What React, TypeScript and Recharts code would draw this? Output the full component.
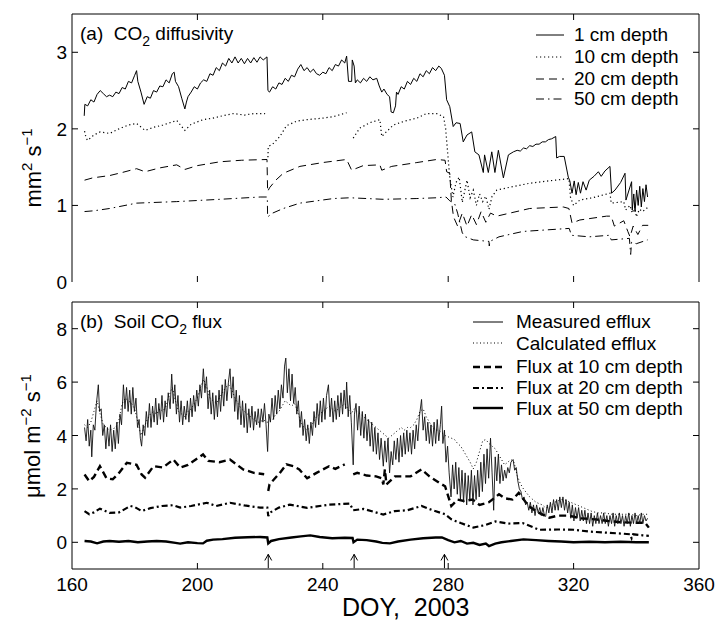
import React from 'react';
import { ComposedChart, Line, XAxis, YAxis, ReferenceLine } from 'recharts';

type P = [number, number | null];

const FONT = "'Liberation Sans', Arial, Helvetica, sans-serif";

const xTicks = [160, 200, 240, 280, 320, 360];
const yTicksA = [0, 1, 2, 3];
const yTicksB = [0, 2, 4, 6, 8];
const arrowDays = [222.6, 250, 278.8];

// ---------- Panel (a): CO2 diffusivity (mm2 s-1) ----------
const diff1cm: P[] = [
  [163.9, 2.17], [164.1, 2.32], [165, 2.3], [166, 2.38], [167, 2.35], [168, 2.45], [169, 2.5], [170, 2.46],
  [171, 2.42], [172, 2.44], [173, 2.42], [174, 2.48], [175, 2.46], [176, 2.54], [177, 2.52], [178, 2.62],
  [179, 2.6], [180, 2.7], [180.6, 2.76], [181, 2.62], [182, 2.48], [183, 2.32], [184, 2.42], [185, 2.4],
  [186, 2.5], [187, 2.48], [188, 2.56], [189, 2.55], [190, 2.64], [191, 2.6], [192, 2.72], [192.6, 2.74],
  [193, 2.62], [194, 2.55], [195, 2.4], [196, 2.26], [196.5, 2.35], [197, 2.42], [198, 2.48], [199, 2.55],
  [200, 2.52], [201, 2.6], [202, 2.64], [203, 2.62], [204, 2.72], [205, 2.7], [206, 2.8], [207, 2.76],
  [208, 2.86], [209, 2.82], [210, 2.92], [211, 2.86], [212, 2.94], [213, 2.86], [214, 2.92], [215, 2.85],
  [216, 2.92], [217, 2.86], [218, 2.93], [219, 2.87], [220, 2.94], [221, 2.9], [222.2, 2.94], [222.5, 2.5],
  [223, 2.48], [224, 2.55], [225, 2.52], [226, 2.6], [227, 2.58], [228, 2.66], [229, 2.62], [230, 2.7],
  [231, 2.68], [232, 2.78], [233, 2.84], [234, 2.76], [235, 2.8], [236, 2.74], [237, 2.78], [238, 2.72],
  [239, 2.7], [240, 2.74], [241, 2.72], [242, 2.8], [243, 2.76], [244, 2.84], [245, 2.82], [246, 2.9],
  [247, 2.86], [247.6, 2.95], [248.2, 2.62], [249.2, 2.62], [249.4, 2.9], [250, 2.82], [250.4, 2.6],
  [251, 2.64], [252, 2.6], [253, 2.66], [254, 2.62], [255, 2.68], [256, 2.64], [257.2, 2.66], [258, 2.56],
  [258.8, 2.48], [259.5, 2.52], [260.5, 2.45], [261.3, 2.42], [261.8, 2.22], [262.5, 2.21], [263.2, 2.3],
  [263.5, 2.48], [264, 2.45], [265, 2.55], [266, 2.52], [267, 2.62], [268, 2.58], [269, 2.66], [270, 2.62],
  [271, 2.72], [272, 2.68], [273, 2.76], [274, 2.72], [275, 2.8], [276, 2.76], [277, 2.82], [277.8, 2.79],
  [278.8, 2.7], [279.5, 2.38], [280.5, 2.29], [281.6, 2.03], [282.5, 2.08], [283.8, 2.07], [284.8, 1.83],
  [286, 1.92], [287.5, 1.96], [288.5, 1.7], [289.8, 1.66], [291.2, 1.43], [291.6, 1.66], [292.8, 1.43],
  [293.9, 1.7], [294.9, 1.43], [296, 1.72], [297.6, 1.36], [299.2, 1.66], [300.8, 1.7], [302, 1.72],
  [303, 1.71], [304, 1.75], [305, 1.74], [306, 1.78], [307, 1.77], [308, 1.8], [309, 1.8], [310, 1.83],
  [311, 1.83], [312, 1.86], [313, 1.87], [314.3, 1.9], [314.6, 1.62], [315.5, 1.64], [317, 1.64],
  [318.3, 1.37], [318.8, 1.32], [319.5, 1.16], [320.2, 1.32], [320.8, 1.14], [321.5, 1.3], [322.2, 1.16],
  [323, 1.31], [324, 1.2], [325, 1.33], [326.5, 1.38], [327.9, 1.44], [328.8, 1.38], [330, 1.45],
  [331.6, 1.51], [332.1, 1.16], [333.2, 1.2], [335, 1.3], [336.4, 1.42], [336.7, 1.07], [338.5, 1.31],
  [338.7, 0.94], [339.2, 1.15], [339.6, 0.92], [340.1, 1.2], [340.6, 1.0], [341.1, 1.25], [341.6, 0.98],
  [342.1, 1.22], [342.6, 1.05], [343.1, 1.27], [343.6, 1.11],
];

const diff10cm: P[] = [
  [164, 1.97], [164.5, 1.88], [165, 1.85], [167, 1.92], [169, 1.96], [172, 1.94], [175, 2.0], [178, 2.05],
  [180.6, 2.07], [183.3, 1.98], [186, 2.02], [189, 2.05], [193.4, 2.11], [196, 1.98], [198, 2.06],
  [201.8, 2.12], [205, 2.14], [208, 2.17], [211.5, 2.2], [215, 2.18], [218, 2.2], [221.6, 2.2], [222, null],
  [222.5, 1.63], [222.6, 1.77], [224, 1.8], [226.3, 1.9], [228.4, 2.04], [231.6, 2.1], [235, 2.12],
  [240, 2.14], [243.4, 2.16], [247.6, 2.21], [248.6, null], [249.7, 1.88], [251.8, 2.01], [255, 2.08],
  [258.2, 2.12], [258.8, 1.9], [260, 1.95], [262.5, 2.05], [266, 2.1], [270, 2.14], [273, 2.2],
  [276.3, 2.2], [278.5, 2.16], [279.2, 2.0], [280, 1.6], [280.5, 1.37], [281.5, 1.11], [282.5, 1.3],
  [283.5, 1.37], [284.5, 1.04], [286, 1.33], [287, 1.1], [288, 1.2], [289, 1.0], [290, 1.15], [291, 1.05],
  [292, 1.12], [293, 0.95], [294, 1.12], [295.5, 1.2], [300, 1.24], [306, 1.29], [312, 1.32], [318.5, 1.35],
  [319, 1.11], [320, 1.0], [322, 1.07], [326, 1.1], [331.6, 1.16], [332, 1.03], [336, 1.05], [336.6, 0.94],
  [338, 1.0], [338.7, 0.9], [339.5, 0.98], [340, 0.85], [341, 0.95], [342, 0.92], [343.8, 0.98],
];

const diff20cm: P[] = [
  [164, 1.33], [166.6, 1.36], [172, 1.39], [176, 1.43], [180.6, 1.48], [183.3, 1.44], [188, 1.49],
  [193.4, 1.53], [196, 1.47], [200, 1.52], [207.2, 1.57], [214, 1.59], [222.2, 1.6], [222.4, 1.18],
  [223, 1.23], [225, 1.33], [227.4, 1.42], [232.7, 1.51], [240, 1.56], [247.6, 1.6], [249.2, 1.46],
  [252.9, 1.52], [258.2, 1.53], [258.8, 1.46], [262, 1.51], [270, 1.56], [276.3, 1.6], [279, 1.59],
  [279.5, 1.44], [280.5, 1.42], [281, 1.07], [281.7, 0.85], [283, 0.73], [284.5, 0.9], [286, 0.73],
  [287.5, 0.88], [289, 0.75], [290.5, 0.92], [292, 0.78], [293.5, 0.9], [295.5, 0.86], [299.7, 0.9],
  [306, 0.96], [316.7, 0.98], [318.5, 0.96], [319.5, 0.77], [322, 0.81], [330.5, 0.86], [332, 0.86],
  [333, 0.73], [336, 0.8], [337.3, 0.66], [338, 0.59], [339, 0.73], [340.5, 0.62], [342, 0.74], [343.8, 0.74],
];

const diff50cm: P[] = [
  [164, 0.92], [167, 0.93], [172, 0.96], [180.6, 1.03], [193.4, 1.05], [207.2, 1.08], [220, 1.11],
  [222.3, 1.11], [222.4, 0.85], [224, 0.9], [227.4, 0.96], [232.7, 1.03], [243.4, 1.09], [248.7, 1.1],
  [259.3, 1.08], [270, 1.09], [276.3, 1.1], [279.3, 1.11], [280.5, 1.06], [282, 1.03], [283, 0.9],
  [284.5, 0.64], [285.5, 0.59], [288, 0.55], [293, 0.53], [293.1, 0.47], [293.3, 0.53], [296.2, 0.59],
  [303.8, 0.66], [318.6, 0.7], [319.3, 0.61], [325, 0.59], [331.4, 0.61], [332, 0.55], [337.8, 0.57],
  [338.2, 0.36], [338.5, 0.52], [340, 0.5], [343.6, 0.55],
];

// ---------- Panel (b): Soil CO2 flux (umol m-2 s-1) ----------
const measuredEfflux: P[] = [
  [164, 4.3], [164.5, 3.8], [165, 4.6], [165.5, 3.6], [166, 4.2], [166.3, 3.2], [166.8, 4.4], [167.3, 4.2],
  [167.8, 5.2], [168.4, 5.9], [168.8, 4.9], [169.3, 5.0], [169.8, 4.0], [170.3, 4.4], [170.8, 3.5], [171.3, 4.3],
  [171.8, 3.6], [172.3, 4.4], [172.8, 3.4], [173.3, 4.2], [173.8, 3.5], [174.3, 4.5], [174.8, 3.7], [175.3, 4.8],
  [175.8, 4.4], [176.4, 5.9], [176.9, 5.0], [177.4, 5.8], [177.9, 4.9], [178.4, 5.7], [178.9, 4.8], [179.4, 5.8],
  [179.9, 4.9], [180.4, 5.4], [180.9, 4.3], [181.4, 4.6], [181.8, 3.9], [182.2, 3.6], [182.7, 4.4], [183.2, 4.0],
  [183.7, 4.9], [184.2, 4.3], [184.7, 5.2], [185.2, 4.3], [185.7, 5.1], [186.2, 4.5], [186.7, 5.4], [187.2, 4.4],
  [187.7, 5.2], [188.2, 4.6], [188.7, 5.5], [189.2, 4.5], [189.7, 5.3], [190.2, 4.7], [190.7, 5.6], [191.3, 5.0],
  [191.8, 6.3], [192.3, 5.2], [192.8, 5.9], [193.3, 4.8], [193.8, 5.5], [194.3, 4.5], [194.8, 5.3], [195.3, 4.4],
  [195.8, 5.1], [196.3, 4.6], [196.8, 5.3], [197.3, 4.5], [197.8, 5.4], [198.3, 4.7], [198.8, 5.5], [199.3, 4.9],
  [199.8, 5.7], [200.3, 5.1], [200.8, 5.9], [201.3, 5.4], [201.9, 6.5], [202.4, 5.6], [202.9, 6.2], [203.4, 5.0],
  [203.9, 5.7], [204.4, 4.8], [204.9, 5.6], [205.4, 4.6], [205.9, 5.5], [206.4, 4.7], [206.9, 5.7], [207.4, 4.9],
  [207.9, 5.9], [208.4, 5.1], [208.9, 6.1], [209.4, 5.3], [209.9, 6.0], [210.4, 6.5], [210.9, 5.4], [211.4, 6.2],
  [211.9, 4.9], [212.4, 5.7], [212.9, 4.6], [213.4, 5.5], [213.9, 4.4], [214.4, 5.3], [214.9, 4.3], [215.4, 5.2],
  [215.9, 4.1], [216.4, 5.0], [216.9, 4.3], [217.4, 5.1], [217.9, 4.2], [218.4, 4.9], [218.9, 4.4], [219.4, 5.0],
  [219.9, 4.3], [220.4, 5.0], [220.9, 4.5], [221.4, 5.2], [221.9, 4.4], [222.4, 3.4], [222.8, 4.8], [223.3, 4.5],
  [223.8, 5.4], [224.3, 4.6], [224.8, 5.5], [225.3, 4.8], [225.8, 5.7], [226.3, 5.0], [226.8, 5.9], [227.3, 5.4],
  [227.8, 6.6], [228.2, 6.9], [228.7, 5.6], [229.2, 6.5], [229.7, 5.3], [230.2, 6.3], [230.7, 5.2], [231.2, 5.8],
  [231.7, 4.8], [232.2, 5.3], [232.7, 4.3], [233.2, 4.9], [233.7, 4.0], [234.2, 4.6], [234.7, 3.8], [235.2, 4.4],
  [235.7, 3.7], [236.2, 4.5], [236.7, 4.0], [237.2, 4.9], [237.7, 4.3], [238.2, 5.2], [238.7, 4.4], [239.2, 5.3],
  [239.7, 4.5], [240.2, 5.4], [240.7, 4.6], [241.2, 5.5], [241.8, 5.9], [242.3, 4.7], [242.8, 5.4], [243.3, 4.5],
  [243.8, 5.3], [244.3, 4.6], [244.8, 5.5], [245.3, 4.7], [245.8, 5.6], [246.3, 4.8], [246.8, 5.7], [247.3, 5.0],
  [247.6, 6.0], [248.1, 4.7], [248.6, 5.5], [249.1, 4.5], [249.7, 2.9], [250.1, 4.8], [250.6, 5.2], [251.1, 4.2],
  [251.6, 5.1], [252.1, 4.0], [252.6, 4.9], [253.1, 3.9], [253.6, 4.8], [254.1, 3.8], [254.6, 4.6], [255.1, 3.6],
  [255.6, 4.5], [256.1, 3.4], [256.6, 4.3], [257.1, 3.3], [257.6, 4.1], [258.1, 3.1], [258.6, 3.9], [259.3, 2.85],
  [259.8, 3.8], [260.3, 3.0], [260.8, 3.9], [261.3, 2.6], [261.8, 3.4], [262.3, 2.9], [262.8, 3.8], [263.3, 3.1],
  [263.8, 3.9], [264.3, 3.0], [264.8, 4.0], [265.3, 3.2], [265.8, 4.1], [266.3, 3.3], [266.8, 4.2], [267.3, 3.4],
  [267.8, 4.1], [268.3, 3.3], [268.8, 4.2], [269.3, 3.5], [269.8, 4.4], [270.3, 3.8], [270.8, 4.7], [271.5, 5.35],
  [272, 4.2], [272.5, 4.7], [273, 3.8], [273.5, 4.5], [274, 3.7], [274.5, 4.4], [275, 3.6], [275.5, 4.5],
  [276, 3.7], [276.5, 4.6], [277, 3.8], [277.5, 4.4], [277.9, 5.1], [278.3, 3.7], [278.8, 4.2], [279.3, 3.0],
  [279.8, 3.6], [280.3, 2.6], [280.9, 1.7], [281.4, 2.9], [281.9, 2.0], [282.4, 3.0], [282.9, 1.8], [283.4, 2.8],
  [283.9, 1.6], [284.4, 2.7], [284.9, 1.5], [285.4, 2.6], [285.9, 1.4], [286.4, 2.5], [286.9, 1.6], [287.4, 2.7],
  [287.9, 1.4], [288.4, 2.5], [288.9, 1.6], [289.4, 2.7], [289.9, 1.7], [290.4, 3.0], [290.9, 1.9], [291.4, 3.3],
  [291.9, 2.2], [292.4, 3.5], [292.9, 2.4], [293.5, 3.9], [294, 2.6], [294.5, 1.2], [295, 3.2], [295.5, 2.3],
  [296, 3.3], [296.5, 2.2], [297, 2.9], [297.5, 2.3], [298, 2.7], [298.5, 2.4], [299, 2.8], [299.5, 2.6],
  [300, 3.0], [300.7, 3.1], [301.2, 2.7], [301.7, 2.8], [302.2, 2.3], [302.7, 2.0], [303.2, 1.9], [303.7, 1.6],
  [304.2, 1.7], [304.7, 1.4], [305.2, 1.5], [305.7, 1.2], [306.2, 1.5], [306.7, 1.1], [307.2, 1.4], [307.7, 1.0],
  [308.2, 1.4], [308.7, 1.1], [309.2, 1.3], [309.7, 1.0], [310.2, 1.3], [310.7, 1.0], [311.1, 0.97], [311.6, 1.4],
  [312.1, 1.1], [312.6, 1.5], [313.1, 1.1], [313.6, 1.6], [314.1, 1.2], [314.6, 1.6], [315.1, 1.2], [315.6, 1.7],
  [316.1, 1.3], [316.6, 1.7], [317.1, 1.2], [317.6, 1.6], [318.1, 1.1], [318.6, 1.5], [319.1, 0.9], [319.6, 1.4],
  [320.1, 0.8], [320.6, 1.3], [321.1, 0.9], [321.6, 1.3], [322.1, 0.8], [322.6, 1.2], [323.1, 0.8], [323.6, 1.2],
  [324.1, 0.7], [324.6, 1.1], [325.1, 0.7], [325.6, 1.1], [326.1, 0.6], [326.6, 1.0], [327.1, 0.7], [327.6, 1.1],
  [328.1, 0.7], [328.6, 1.0], [329.1, 0.7], [329.6, 1.1], [330.1, 0.7], [330.6, 1.0], [331.1, 0.6], [331.6, 1.0],
  [332.1, 0.7], [332.6, 1.1], [333.1, 0.6], [333.6, 1.0], [334.1, 0.7], [334.6, 1.1], [335.1, 0.7], [335.6, 1.0],
  [336.1, 0.6], [336.6, 1.0], [337.1, 0.7], [337.6, 1.1], [338.1, 0.6], [338.6, 1.0], [339.1, 0.7], [339.6, 1.1],
  [340.1, 0.7], [340.6, 1.0], [341.1, 0.7], [341.6, 1.1], [342.1, 0.7], [342.6, 1.0], [343.1, 0.8], [343.6, 0.9],
];

const calculatedEfflux: P[] = [
  [164, 4.4], [165, 4.3], [166, 4.5], [167, 4.9], [168, 5.3], [169, 4.8], [170, 4.4], [171, 4.3], [172, 4.2],
  [173, 4.25], [174, 4.3], [175, 4.6], [176, 5.2], [177, 5.4], [178, 5.3], [179, 5.2], [180, 5.0], [181, 4.5],
  [182, 4.0], [183, 4.3], [184, 4.6], [185, 4.8], [186, 4.9], [187, 4.8], [188, 5.0], [189, 4.9], [190, 5.1],
  [191, 5.5], [192, 5.8], [193, 5.3], [194, 4.9], [195, 4.8], [196, 4.7], [197, 4.9], [198, 5.0], [199, 5.2],
  [200, 5.4], [201, 5.8], [202, 6.1], [203, 5.8], [204, 5.4], [205, 5.3], [206, 5.2], [207, 5.4], [208, 5.6],
  [209, 5.8], [210, 5.9], [211, 5.7], [212, 5.4], [213, 5.2], [214, 5.0], [215, 4.9], [216, 4.8], [217, 4.7],
  [218, 4.6], [219, 4.5], [220, 4.5], [221, 4.6], [222, 4.5], [223, 4.5], [224, 4.6], [225, 4.8], [226, 4.9],
  [227, 5.1], [228, 5.3], [229, 5.2], [230, 5.1], [231, 5.2], [232, 4.9], [233, 4.5], [234, 4.3], [235, 4.2],
  [236, 4.3], [237, 4.5], [238, 4.7], [239, 4.8], [240, 4.9], [241, 5.0], [242, 5.1], [243, 5.0], [244, 4.9],
  [245, 5.0], [246, 5.1], [247, 5.2], [248, 5.0], [249, 4.8], [250, 5.0], [251, 4.9], [252, 4.8], [253, 4.7],
  [254, 4.6], [255, 4.5], [256, 4.4], [257, 4.3], [258, 4.2], [259, 4.1], [260, 4.0], [261, 3.9], [262, 4.0],
  [263, 4.1], [264, 4.2], [265, 4.3], [266, 4.2], [267, 4.3], [268, 4.3], [269, 4.4], [270, 4.6], [271, 4.9],
  [272, 5.0], [273, 4.7], [274, 4.5], [275, 4.3], [276, 4.2], [277, 4.2], [278, 4.1], [279, 4.0], [280, 3.95],
  [281, 3.9], [282, 3.85], [283, 3.7], [284, 3.6], [285, 3.4], [286, 3.2], [287, 3.0], [288, 2.75], [289, 3.0],
  [290, 3.4], [291, 3.8], [292, 3.85], [293, 3.7], [294, 3.6], [295, 3.5], [296, 3.3], [297, 3.1], [298, 2.9],
  [299, 3.0], [300, 3.1], [301, 3.0], [302, 2.5], [303, 2.2], [304, 2.0], [305, 1.85], [306, 1.7], [307, 1.6],
  [308, 1.5], [309, 1.45], [310, 1.4], [311, 1.3], [312, 1.3], [313, 1.4], [314, 1.5], [315, 1.55], [316, 1.6],
  [317, 1.6], [318, 1.55], [319, 1.5], [320, 1.45], [322, 1.35], [324, 1.25], [326, 1.15], [328, 1.1],
  [330, 1.1], [332, 1.05], [334, 1.05], [336, 1.05], [338, 1.05], [340, 1.0], [342, 1.05], [344, 1.05],
];

const flux10cm: P[] = [
  [164, 2.54], [165.5, 2.29], [167, 2.45], [168.9, 2.85], [171, 2.4], [173, 2.36], [175, 2.6], [177.5, 2.98],
  [180.6, 2.9], [182.2, 2.54], [183.3, 2.42], [186, 2.85], [189, 2.8], [192.3, 3.1], [194.5, 2.8], [197, 2.9],
  [201.8, 3.29], [203.5, 3.05], [207, 3.0], [210.4, 3.1], [214.6, 2.73], [218, 2.6], [221.3, 2.55], [221.9, null],
  [222.6, 1.92], [223, 2.17], [226.3, 2.6], [228.4, 2.92], [230.6, 2.85], [232.5, 2.73], [235, 2.4], [238, 2.6],
  [242, 2.85], [244, 2.75], [247, 2.92], [248.3, null], [249.7, 2.54], [251, 2.6], [254, 2.5], [257, 2.47],
  [258.8, 2.4], [259.3, 2.17], [259.8, 2.73], [260.3, 2.17], [263, 2.47], [268, 2.47], [271.5, 2.73],
  [274, 2.47], [277.5, 2.2], [279, 2.1], [281, 1.36], [283, 1.6], [285, 1.55], [287.8, 1.6], [290, 1.4],
  [293, 1.5], [296.2, 1.8], [298, 1.65], [300.5, 1.6], [302.5, 1.85], [305.7, 1.35], [309, 1.1], [312.3, 0.92],
  [315, 1.0], [318.6, 1.0], [322, 0.9], [327, 0.86], [331, 0.8], [335.3, 0.75], [340, 0.73], [342.8, 0.73],
  [344, 0.55],
];

const flux20cm: P[] = [
  [164, 1.17], [165.5, 1.05], [167, 1.12], [168.9, 1.26], [172, 1.1], [175, 1.12], [178.6, 1.36], [180, 1.32],
  [182.2, 1.17], [185, 1.28], [188.7, 1.36], [192.3, 1.39], [194.5, 1.3], [198, 1.36], [203, 1.48], [206, 1.36],
  [210.4, 1.48], [215, 1.38], [220, 1.3], [222.3, 1.3], [222.6, 0.98], [223, 1.1], [226, 1.3], [229.5, 1.41],
  [235, 1.29], [242, 1.41], [248.6, 1.45], [249.7, 1.2], [253, 1.25], [256, 1.15], [259.3, 1.04], [263, 1.17],
  [267, 1.2], [271.5, 1.36], [275, 1.2], [279, 1.05], [281, 0.86], [284, 0.72], [288, 0.55], [292, 0.65],
  [295, 0.78], [299, 0.7], [303.8, 0.72], [309, 0.47], [315, 0.48], [320, 0.47], [325, 0.4], [330.6, 0.36],
  [336, 0.32], [338, 0.3], [338.5, 0.15], [339, 0.3], [342, 0.26], [344, 0.24],
];

const flux50cm: P[] = [
  [164, 0.05], [166, 0.03], [168, -0.04], [170, 0.03], [172, 0.05], [175, 0.02], [178, 0.05], [181, 0.0],
  [184, 0.03], [187, 0.05], [190, 0.03], [193, -0.02], [194.5, -0.05], [197, 0.0], [200, -0.03], [201.8, -0.04],
  [203, 0.06], [205, 0.1], [208, 0.12], [212, 0.17], [216, 0.19], [220, 0.2], [222.3, 0.18], [222.6, -0.04],
  [223.5, 0.05], [226, 0.12], [230, 0.18], [233, 0.22], [236, 0.26], [239, 0.2], [243, 0.15], [247, 0.17],
  [249.5, 0.16], [249.8, 0.0], [251, 0.1], [254, 0.08], [257, 0.03], [259, -0.02], [261.4, -0.04], [264, 0.03],
  [268, 0.1], [272, 0.15], [276, 0.18], [278, 0.18], [280, 0.08], [282, 0.0], [284, 0.05], [286, -0.05],
  [288, -0.02], [290, -0.1], [292, -0.05], [293, -0.14], [295, -0.05], [297, 0.0], [300, 0.05], [304, 0.11],
  [308, 0.08], [312, 0.05], [316, 0.03], [320, 0.0], [325, 0.02], [330, 0.0], [335, 0.02], [340, 0.0], [344, 0.0],
];

const toData = (arr: P[]) => arr.map(([x, y]) => ({ x, y }));

const AXL = { stroke: '#000', strokeWidth: 1 };
const X_MIN = 160;
const X_MAX = 360;

function XLabel(props: any) {
  const { x, y, payload, showLabel } = props;
  if (!showLabel) return <g />;
  return (
    <text x={x} y={y + 22} textAnchor="middle" fontSize={19} fontFamily={FONT} fill="#000">
      {payload.value}
    </text>
  );
}

function YLabel(props: any) {
  const { x, y, payload } = props;
  return (
    <text x={x - 5} y={y + 7} textAnchor="end" fontSize={19} fontFamily={FONT} fill="#000">
      {payload.value}
    </text>
  );
}

// frame (top/right) and inward tick marks, placed through the chart's own scales
function frameAndTicks(yMin: number, yMax: number, plotH: number, plotW: number) {
  const ty = ((yMax - yMin) / plotH) * 6; // 6px in data units
  const tx = ((X_MAX - X_MIN) / plotW) * 6;
  const yTicks = yMax > 5 ? yTicksB : yTicksA;
  const out: any[] = [];
  out.push(<ReferenceLine key="ftop" y={yMax} stroke="#000" strokeWidth={1} ifOverflow="visible" />);
  out.push(<ReferenceLine key="fright" x={X_MAX} stroke="#000" strokeWidth={1} ifOverflow="visible" />);
  xTicks.slice(1, -1).forEach((t) => {
    out.push(<ReferenceLine key={'xb' + t} segment={[{ x: t, y: yMin }, { x: t, y: yMin + ty }]} stroke="#000" strokeWidth={1} ifOverflow="visible" />);
    out.push(<ReferenceLine key={'xt' + t} segment={[{ x: t, y: yMax }, { x: t, y: yMax - ty }]} stroke="#000" strokeWidth={1} ifOverflow="visible" />);
  });
  yTicks.forEach((v) => {
    if (v === yMin) return;
    out.push(<ReferenceLine key={'yl' + v} segment={[{ x: X_MIN, y: v }, { x: X_MIN + tx, y: v }]} stroke="#000" strokeWidth={1} ifOverflow="visible" />);
    out.push(<ReferenceLine key={'yr' + v} segment={[{ x: X_MAX, y: v }, { x: X_MAX - tx, y: v }]} stroke="#000" strokeWidth={1} ifOverflow="visible" />);
  });
  return out;
}

function axes(yDomain: number[], yTicks: number[], xHeight: number, showX: boolean) {
  return [
    <XAxis key="xb" type="number" dataKey="x" domain={[X_MIN, X_MAX]} ticks={xTicks} interval={0}
      tickSize={0} tickMargin={0} height={xHeight} axisLine={AXL} tickLine={false} allowDataOverflow
      tick={(p: any) => <XLabel {...p} showLabel={showX} />} />,
    <YAxis key="yl" type="number" domain={yDomain} ticks={yTicks} interval={0} width={72}
      tickSize={0} tickMargin={0} axisLine={AXL} tickLine={false} allowDataOverflow
      tick={(p: any) => <YLabel {...p} />} />,
  ];
}

function series(key: string, arr: P[], width: number, dash?: string, color = '#000') {
  return (
    <Line key={key} data={toData(arr)} dataKey="y" type="linear" stroke={color} strokeWidth={width}
      strokeDasharray={dash} dot={false} activeDot={false} isAnimationActive={false} connectNulls={false} />
  );
}

export default function App() {
  return (
    <div style={{ position: 'absolute', left: 0, top: 0, width: 716, height: 621, background: '#fff' }}>
      <div style={{ position: 'absolute', left: 0, top: 0 }}>
        <ComposedChart width={716} height={292} margin={{ top: 14, right: 17, bottom: 10, left: 0 }}>
          {axes([0, 3.5], yTicksA, 0, false)}
          {frameAndTicks(0, 3.5, 268, 627)}
          {series('d50', diff50cm, 1, '8 4 1.5 4')}
          {series('d20', diff20cm, 1, '8 5')}
          {series('d10', diff10cm, 1.2, '1.2 2.8')}
          {series('d1', diff1cm, 1)}
        </ComposedChart>
      </div>
      <div style={{ position: 'absolute', left: 0, top: 292 }}>
        <ComposedChart width={716} height={329} margin={{ top: 10, right: 17, bottom: 0, left: 0 }}>
          {axes([-1, 9], yTicksB, 52, true)}
          {frameAndTicks(-1, 9, 267, 627)}
          {series('f50', flux50cm, 2.4)}
          {series('f20', flux20cm, 2.2, '6 3 2 3')}
          {series('f10', flux10cm, 2.4, '7 4')}
          {series('calc', calculatedEfflux, 1, '1 2.5')}
          {series('meas', measuredEfflux, 0.9, undefined, '#111')}
          {arrowDays.map((d) => (
            <ReferenceLine key={'s' + d} segment={[{ x: d, y: -0.97 }, { x: d, y: -0.45 }]} stroke="#000" strokeWidth={1} ifOverflow="visible" />
          ))}
          {arrowDays.map((d) => (
            <ReferenceLine key={'l' + d} segment={[{ x: d - 1.1, y: -0.68 }, { x: d, y: -0.45 }]} stroke="#000" strokeWidth={1} ifOverflow="visible" />
          ))}
          {arrowDays.map((d) => (
            <ReferenceLine key={'r' + d} segment={[{ x: d + 1.1, y: -0.68 }, { x: d, y: -0.45 }]} stroke="#000" strokeWidth={1} ifOverflow="visible" />
          ))}
        </ComposedChart>
      </div>
      <svg width={716} height={621} style={{ position: 'absolute', left: 0, top: 0, pointerEvents: 'none' }}
        fontFamily={FONT} fill="#000">
        {/* panel titles */}
        <text x={80} y={40} fontSize={19} style={{ whiteSpace: 'pre' }}>
          {'(a)  CO'}<tspan dy={6} fontSize={14}>2</tspan><tspan dy={-6}>{' diffusivity'}</tspan>
        </text>
        <text x={80} y={328} fontSize={19} style={{ whiteSpace: 'pre' }}>
          {'(b)  Soil CO'}<tspan dy={6} fontSize={14}>2</tspan><tspan dy={-6}>{' flux'}</tspan>
        </text>
        {/* y axis labels */}
        <text transform="translate(41,168) rotate(-90)" textAnchor="middle" fontSize={22} style={{ whiteSpace: 'pre' }}>
          {'mm'}<tspan dy={-9} fontSize={15}>2</tspan><tspan dy={9}>{' s'}</tspan><tspan dy={-9} fontSize={15}>−1</tspan>
        </text>
        <text transform="translate(40,436) rotate(-90)" textAnchor="middle" fontSize={22} style={{ whiteSpace: 'pre' }}>
          {'μmol m'}<tspan dy={-9} fontSize={15}>−2</tspan><tspan dy={9}>{' s'}</tspan><tspan dy={-9} fontSize={15}>−1</tspan>
        </text>
        {/* x axis label */}
        <text x={342} y={616} fontSize={25} style={{ whiteSpace: 'pre' }}>{'DOY,  2003'}</text>
        {/* legend (a) */}
        <g stroke="#000" strokeWidth={1}>
          <line x1={536} x2={564} y1={35} y2={35} />
          <line x1={536} x2={564} y1={57} y2={57} strokeDasharray="1.2 2.8" strokeWidth={1.2} />
          <line x1={536} x2={564} y1={79} y2={79} strokeDasharray="8 5" />
          <line x1={536} x2={564} y1={99} y2={99} strokeDasharray="8 4 1.5 4" />
        </g>
        <g fontSize={19}>
          <text x={574} y={41}>1 cm depth</text>
          <text x={574} y={63}>10 cm depth</text>
          <text x={574} y={85}>20 cm depth</text>
          <text x={574} y={105}>50 cm depth</text>
        </g>
        {/* legend (b) */}
        <g stroke="#000">
          <line x1={473} x2={503} y1={322} y2={322} strokeWidth={1} />
          <line x1={473} x2={503} y1={343} y2={343} strokeWidth={1} strokeDasharray="1 2.5" />
          <line x1={473} x2={503} y1={367} y2={367} strokeWidth={2.4} strokeDasharray="7 4" />
          <line x1={473} x2={503} y1={388} y2={388} strokeWidth={2.2} strokeDasharray="6 3 2 3" />
          <line x1={473} x2={503} y1={408} y2={408} strokeWidth={2.4} />
        </g>
        <g fontSize={19}>
          <text x={516} y={328}>Measured efflux</text>
          <text x={516} y={350}>Calculated efflux</text>
          <text x={516} y={373}>Flux at 10 cm depth</text>
          <text x={516} y={394}>Flux at 20 cm depth</text>
          <text x={516} y={415}>Flux at 50 cm depth</text>
        </g>
      </svg>
    </div>
  );
}
